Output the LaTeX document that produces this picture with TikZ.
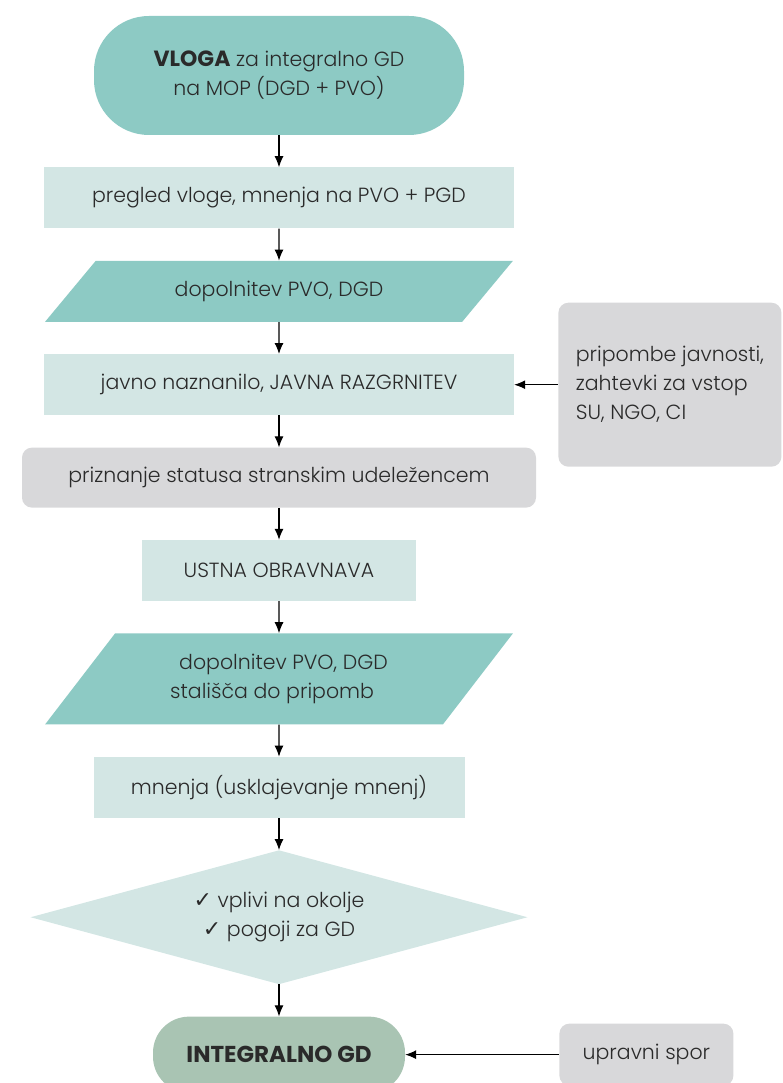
\documentclass[tikz,border=0pt]{standalone}
\usepackage{fontspec}
\setmainfont{Poppins}[UprightFont={* Light},BoldFont={* Bold}]
\newfontfamily\simboli{DejaVu Sans}
\usetikzlibrary{positioning,shapes.geometric,arrows.meta}

\definecolor{turkizna}{HTML}{8DCAC4}
\definecolor{svetla}{HTML}{D3E6E4}
\definecolor{siva}{HTML}{D8D8DA}
\definecolor{zelena}{HTML}{A9C4B3}
\definecolor{besedilo}{HTML}{2A2A2A}

\begin{document}
\begin{tikzpicture}[x=1pt,y=1pt,node distance=32pt,
	every node/.style={text=besedilo,font=\fontsize{20.5}{29}\selectfont,inner sep=0pt},
	stadion/.style={rectangle,rounded corners=55pt,fill=turkizna,minimum width=370pt,minimum height=119pt,align=center},
	korak/.style={rectangle,fill=svetla,minimum height=61pt},
	dopolni/.style={trapezium,trapezium stretches=true,fill=turkizna,minimum width=468pt},
	sivi/.style={rectangle,rounded corners=10pt,fill=siva},
	odlocitev/.style={diamond,aspect=3.7,fill=svetla,minimum width=497pt,minimum height=134pt,align=center},
	koncni/.style={rectangle,rounded corners=36pt,fill=zelena,minimum width=252pt,minimum height=76pt,font=\fontsize{23}{29}\selectfont\bfseries},
	puscica/.style={-{Latex[length=11pt,width=9pt]},line width=1.1pt,black}]
	\useasboundingbox (0,0) rectangle (782,-1083);
	\clip (0,0) rectangle (782,-1083);
	
	\node[stadion] (vloga) at (279,-75.5) {{\fontsize{22}{29}\selectfont\bfseries VLOGA} za integralno GD\\na MOP (DGD + PVO)};
	\node[korak,minimum width=470pt] (pregled) [below=of vloga] {pregled vloge, mnenja na PVO + PGD};
	\node[dopolni,trapezium left angle=35.66,trapezium right angle=144.34,minimum height=61pt] (dopolnitev) [below=of pregled] {dopolnitev PVO, DGD};
	\node[korak,minimum width=470pt] (razgrnitev) [below=of dopolnitev] {javno naznanilo, JAVNA RAZGRNITEV};
	\node[sivi,minimum width=514pt,minimum height=60pt] (priznanje) [below=of razgrnitev] {priznanje statusa stranskim udeležencem};
	\node[korak,minimum width=274pt] (obravnava) [below=of priznanje] {USTNA OBRAVNAVA};
	\node[dopolni,trapezium left angle=46.95,trapezium right angle=133.05,minimum height=91pt,align=left] (stalisca) [below=of obravnava] {\hspace*{9pt}dopolnitev PVO, DGD\\stališča do pripomb};
	\node[korak,minimum width=371pt] (mnenja) [below=of stalisca] {mnenja (usklajevanje mnenj)};
	\node[odlocitev] (presoja) [below=of mnenja] {{\simboli\fontsize{22}{29}\selectfont ✓} vplivi na okolje\\{\simboli\fontsize{22}{29}\selectfont ✓} pogoji za GD};
	\node[koncni] (gd) [below=of presoja] {INTEGRALNO GD};
	
	\node[sivi,minimum width=223pt,minimum height=164pt,align=left] (pripombe) [right=44pt of razgrnitev] {pripombe javnosti,\\zahtevki za vstop\\SU, NGO, CI};
	\node[sivi,minimum width=174pt,minimum height=62pt] (spor) [right=154pt of gd] {upravni spor};
	
	\path[puscica]
	(vloga) edge (pregled)
	(pregled) edge (dopolnitev)
	(dopolnitev) edge (razgrnitev)
	(razgrnitev) edge (priznanje)
	(priznanje) edge (obravnava)
	(obravnava) edge (stalisca)
	(stalisca) edge (mnenja)
	(mnenja) edge (presoja)
	(presoja) edge (gd)
	(pripombe) edge (razgrnitev)
	(spor) edge (gd);
\end{tikzpicture}
\end{document}
